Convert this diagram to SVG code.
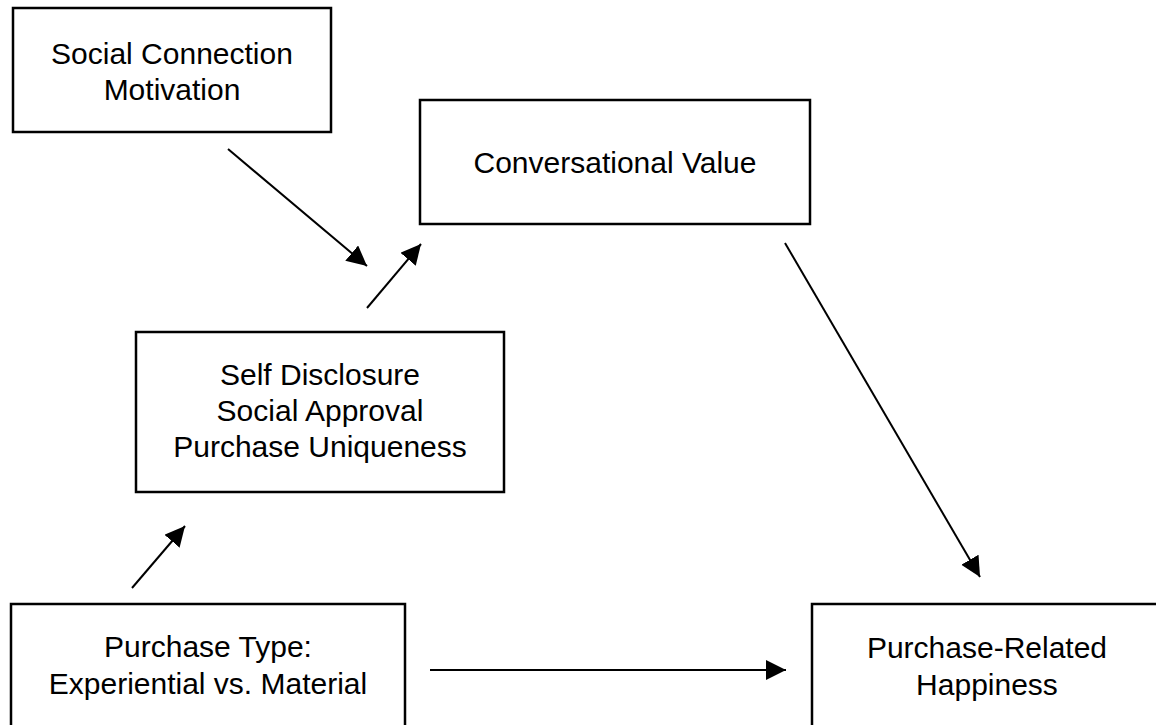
<svg xmlns="http://www.w3.org/2000/svg" width="1156" height="725" viewBox="0 0 1156 725">
<style>
.box{fill:#fff;stroke:#000;stroke-width:2.5}
.t{font-family:"Liberation Sans",Arial,sans-serif;font-size:30px;fill:#000;text-anchor:middle}
.c{stroke:#000;stroke-width:2;fill:none}
</style>
<defs>
<marker id="ah" markerUnits="userSpaceOnUse" markerWidth="22" markerHeight="22" refX="20" refY="10" orient="auto" viewBox="0 0 22 22">
<path d="M0,0 L20,10 L0,20 Z" fill="#000"/>
</marker>
</defs>
<rect width="1156" height="725" fill="#fff"/>
<g id="social-connection">
<rect class="box" x="13" y="8" width="318" height="124"/>
<text class="t" x="172" y="64">Social Connection</text>
<text class="t" x="172" y="100">Motivation</text>
</g>
<g id="conversational-value">
<rect class="box" x="420" y="100" width="390" height="124"/>
<text class="t" x="615" y="173">Conversational Value</text>
</g>
<g id="mediators">
<rect class="box" x="136" y="332" width="368" height="160"/>
<text class="t" x="320" y="385">Self Disclosure</text>
<text class="t" x="320" y="421">Social Approval</text>
<text class="t" x="320" y="457">Purchase Uniqueness</text>
</g>
<g id="purchase-type">
<rect class="box" x="11" y="604" width="394" height="140"/>
<text class="t" x="208" y="657">Purchase Type:</text>
<text class="t" x="208" y="694">Experiential vs. Material</text>
</g>
<g id="happiness">
<rect class="box" x="812" y="604" width="360" height="140"/>
<text class="t" x="987" y="658">Purchase-Related</text>
<text class="t" x="987" y="695">Happiness</text>
</g>
<g id="connectors">
<line class="c" x1="228" y1="149" x2="367" y2="266" marker-end="url(#ah)"/>
<line class="c" x1="367" y1="308" x2="421" y2="244" marker-end="url(#ah)"/>
<line class="c" x1="132" y1="588" x2="185" y2="526" marker-end="url(#ah)"/>
<line class="c" x1="430" y1="670" x2="786" y2="670" marker-end="url(#ah)"/>
<line class="c" x1="785" y1="243" x2="980" y2="577" marker-end="url(#ah)"/>
</g>
</svg>
